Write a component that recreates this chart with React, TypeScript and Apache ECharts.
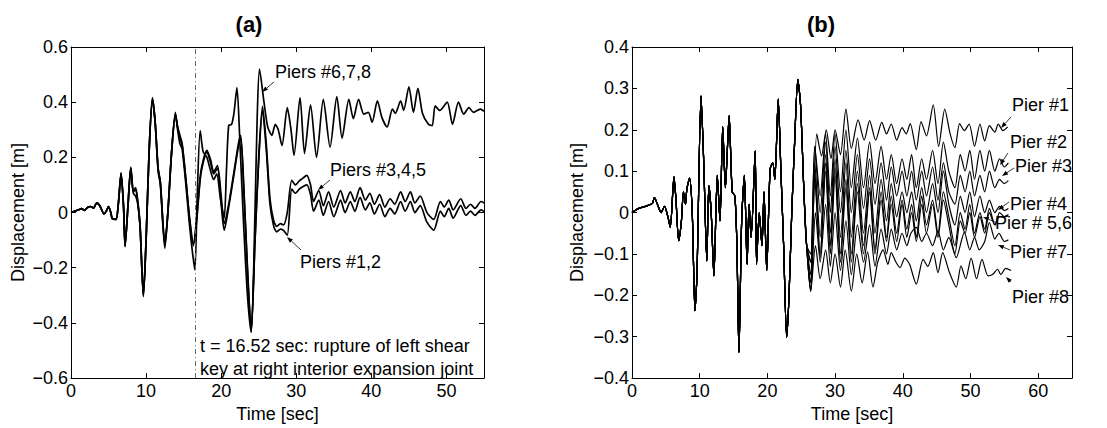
import React, { useEffect, useRef } from "react";
import * as echarts from "echarts";

// ---------- Panel (a) data: [time (s), displacement (m)] ----------
const RUPTURE_TIME = 16.52;

const piers678: number[][] = [
  [0, 0], [0.5, 0.005], [1.0, 0.01], [1.4, 0.014], [1.8, 0.008], [2.2, 0.018], [2.6, 0.022], [3.0, 0.016],
  [3.4, 0.034], [3.7, 0.03], [4.0, 0.015], [4.4, -0.005], [4.7, 0.005], [5.0, 0.022], [5.3, 0.0], [5.5, -0.022],
  [6.0, -0.025], [6.3, 0.03], [6.67, 0.145], [7.0, 0.02], [7.2, -0.124], [7.6, 0.03], [7.96, 0.165], [8.3, 0.07],
  [8.6, 0.06], [8.9, 0.03], [9.2, -0.05], [9.64, -0.305], [10.0, -0.1], [10.4, 0.22], [10.84, 0.417], [11.2, 0.33],
  [11.6, 0.15], [11.9, 0.1], [12.5, -0.13], [12.9, 0.0], [13.4, 0.22], [13.9, 0.363], [14.2, 0.3], [14.5, 0.25],
  [14.8, 0.23], [15.3, 0.1], [15.8, -0.05], [16.2, -0.15], [16.5, -0.208], [16.8, 0.05], [17.2, 0.297], [17.6, 0.22],
  [18.1, 0.2], [18.6, 0.15], [19.0, 0.12], [19.4, 0.14], [19.9, 0.05], [20.4, -0.02], [20.7, 0.15], [21.0, 0.315],
  [21.4, 0.32], [21.7, 0.36], [22.1, 0.453], [22.5, 0.25], [23.0, -0.05], [23.5, -0.3], [24.0, -0.434], [24.5, 0.0],
  [24.8, 0.35], [25.1, 0.52], [25.7, 0.4], [26.2, 0.31], [26.75, 0.28], [27.2, 0.32], [27.6, 0.3], [28.1, 0.243],
  [28.8, 0.38], [29.3, 0.3], [29.7, 0.207], [30.5, 0.417], [31.1, 0.214], [31.9, 0.39], [32.7, 0.2], [33.6, 0.41],
  [34.5, 0.237], [35.4, 0.42], [36.1, 0.27], [37.0, 0.41], [37.6, 0.34], [38.3, 0.41], [39.0, 0.357], [39.6, 0.363],
  [40.1, 0.327], [40.8, 0.405], [41.4, 0.345], [42.1, 0.31], [42.8, 0.375], [43.2, 0.36], [43.9, 0.405], [44.3, 0.37],
  [45.0, 0.456], [45.6, 0.363], [46.2, 0.45], [46.8, 0.36], [47.6, 0.32], [48.1, 0.315], [48.5, 0.387], [49.1, 0.37],
  [50.1, 0.4], [50.8, 0.32], [51.6, 0.4], [52.3, 0.357], [53.0, 0.38], [53.6, 0.363], [54.5, 0.375], [55, 0.367],
];

const piers345: number[][] = [
  [0, 0], [0.5, 0.005], [1.0, 0.01], [1.4, 0.014], [1.8, 0.008], [2.2, 0.018], [2.6, 0.022], [3.0, 0.016],
  [3.4, 0.034], [3.7, 0.03], [4.0, 0.015], [4.4, -0.005], [4.7, 0.005], [5.0, 0.022], [5.3, 0.0], [5.5, -0.022],
  [6.0, -0.025], [6.3, 0.03], [6.67, 0.14], [7.0, 0.02], [7.2, -0.12], [7.6, 0.03], [7.96, 0.16], [8.3, 0.075],
  [8.6, 0.09], [8.9, 0.04], [9.2, -0.05], [9.64, -0.3], [10.0, -0.1], [10.4, 0.22], [10.84, 0.41], [11.2, 0.33],
  [11.6, 0.16], [11.9, 0.11], [12.5, -0.11], [12.9, 0.0], [13.4, 0.22], [13.9, 0.355], [14.2, 0.31], [14.5, 0.28],
  [14.8, 0.25], [15.3, 0.12], [15.8, -0.02], [16.3, -0.112], [16.8, 0.0], [17.3, 0.15], [18.1, 0.225], [18.6, 0.19],
  [19.0, 0.147], [19.5, 0.17], [20.0, 0.06], [20.4, -0.04], [21.0, 0.03], [21.6, 0.13], [22.3, 0.25], [22.6, 0.28],
  [23.0, 0.1], [23.5, -0.2], [24.0, -0.43], [24.5, -0.1], [25.0, 0.2], [25.5, 0.385], [26.0, 0.25], [26.5, 0.05],
  [27.0, -0.03], [27.4, -0.05], [27.9, -0.04], [28.3, -0.045], [28.8, 0.0], [29.4, 0.117], [29.9, 0.1], [30.4, 0.115],
  [30.8, 0.123], [31.4, 0.135], [31.9, 0.1], [32.3, 0.04], [33.0, 0.08], [33.6, 0.025], [34.3, 0.075], [35.0, 0.02],
  [35.9, 0.08], [36.5, 0.035], [37.2, 0.075], [37.8, 0.04], [38.5, 0.09], [39.2, 0.045], [39.8, 0.07], [40.4, 0.03],
  [41.1, 0.065], [41.8, 0.02], [42.5, 0.05], [43.1, 0.03], [43.9, 0.075], [44.5, 0.04], [45.2, 0.075], [45.8, 0.035],
  [46.5, 0.06], [47.4, 0.0], [48.3, -0.025], [49.2, 0.04], [49.7, 0.02], [50.3, 0.045], [50.9, 0.01], [51.9, 0.05],
  [52.6, 0.015], [53.2, 0.03], [53.8, 0.015], [54.6, 0.04], [55, 0.035],
];

const piers12: number[][] = [
  [0, 0], [0.5, 0.005], [1.0, 0.01], [1.4, 0.014], [1.8, 0.008], [2.2, 0.018], [2.6, 0.022], [3.0, 0.016],
  [3.4, 0.034], [3.7, 0.03], [4.0, 0.015], [4.4, -0.005], [4.7, 0.005], [5.0, 0.022], [5.3, 0.0], [5.5, -0.022],
  [6.0, -0.025], [6.3, 0.03], [6.67, 0.14], [7.0, 0.02], [7.2, -0.12], [7.6, 0.03], [7.96, 0.16], [8.3, 0.075],
  [8.6, 0.085], [8.9, 0.035], [9.2, -0.05], [9.64, -0.3], [10.0, -0.1], [10.4, 0.22], [10.84, 0.41], [11.2, 0.33],
  [11.6, 0.16], [11.9, 0.11], [12.5, -0.12], [12.9, 0.0], [13.4, 0.22], [13.9, 0.355], [14.2, 0.31], [14.5, 0.27],
  [14.8, 0.245], [15.3, 0.12], [15.8, -0.03], [16.3, -0.12], [16.8, -0.01], [17.3, 0.14], [18.1, 0.22], [18.6, 0.18],
  [19.0, 0.14], [19.5, 0.16], [20.0, 0.03], [20.4, -0.064], [21.0, 0.02], [21.6, 0.12], [22.3, 0.24], [22.6, 0.27],
  [23.0, 0.09], [23.5, -0.21], [24.0, -0.43], [24.5, -0.11], [25.0, 0.19], [25.5, 0.37], [26.0, 0.23], [26.5, 0.03],
  [27.0, -0.05], [27.4, -0.07], [27.9, -0.06], [28.3, -0.065], [28.8, -0.082], [29.4, 0.085], [29.9, 0.07], [30.4, 0.085],
  [30.8, 0.093], [31.4, 0.1], [31.9, 0.065], [32.3, 0.005], [33.0, 0.045], [33.6, -0.01], [34.3, 0.04], [35.0, -0.015],
  [35.9, 0.045], [36.5, 0.0], [37.2, 0.04], [37.8, 0.005], [38.5, 0.055], [39.2, 0.01], [39.8, 0.035], [40.4, -0.005],
  [41.1, 0.03], [41.8, -0.015], [42.5, 0.015], [43.1, -0.005], [43.9, 0.04], [44.5, 0.005], [45.2, 0.04], [45.8, 0.0],
  [46.5, 0.025], [47.4, -0.035], [48.3, -0.064], [49.2, 0.005], [49.7, -0.015], [50.3, 0.015], [50.9, -0.02], [51.9, 0.025],
  [52.6, -0.01], [53.2, 0.005], [53.8, -0.01], [54.6, 0.01], [55, 0.004],
];

// ---------- Panel (b) data ----------
// common response of all piers before they separate
const commonB: number[][] = [
  [0, 0], [1.0, 0.01], [2.0, 0.015], [3.0, 0.022], [3.3, 0.036], [3.8, 0.018], [4.3, 0.0], [4.8, 0.015],
  [5.3, -0.01], [5.65, -0.036], [6.2, 0.086], [6.5, 0.03], [6.9, -0.068], [7.3, -0.02], [7.6, 0.05], [7.9, 0.02],
  [8.1, 0.056], [8.5, 0.083], [8.9, 0.0], [9.3, -0.237], [9.6, -0.15], [10.2, 0.282], [10.6, 0.12], [11.05, -0.117],
  [11.35, 0.065], [11.7, 0.0], [12.1, -0.153], [12.6, 0.09], [13.0, -0.02], [13.4, 0.208], [13.8, 0.06], [14.0, 0.12],
  [14.35, 0.234], [14.8, 0.05], [15.2, 0.04], [15.5, -0.08], [15.8, -0.338], [16.2, -0.02], [16.6, 0.09], [17.0, -0.125],
  [17.3, 0.02], [17.6, -0.06], [18.2, 0.149], [18.4, -0.125], [18.8, 0.0], [19.2, -0.08], [19.5, 0.05], [19.9, -0.14],
  [20.4, 0.105], [20.8, 0.12], [21.1, 0.08], [21.6, 0.274], [22.0, 0.1], [22.4, -0.08], [22.85, -0.302], [23.2, -0.2],
  [23.6, 0.0], [24.0, 0.16], [24.5, 0.322], [24.9, 0.26], [25.4, 0.05], [25.8, -0.08],
];

const pier1Tail: number[][] = [
  [26.4, -0.12], [27.3, 0.19], [28.0, 0.137], [28.7, 0.2], [29.4, 0.13], [30.0, 0.2], [30.8, 0.14], [31.6, 0.25],
  [32.4, 0.155], [33.4, 0.224], [34.3, 0.175], [35.1, 0.222], [36.0, 0.175], [36.9, 0.218], [37.6, 0.19], [38.3, 0.214],
  [39.1, 0.175], [39.9, 0.205], [40.5, 0.19], [41.1, 0.215], [42.0, 0.152], [42.7, 0.22], [43.5, 0.185], [44.5, 0.26],
  [45.3, 0.16], [46.2, 0.25], [47.0, 0.19], [47.7, 0.157], [48.4, 0.215], [49.1, 0.198], [49.8, 0.214], [50.6, 0.16],
  [51.4, 0.214], [52.1, 0.173], [52.8, 0.21], [53.6, 0.194], [54.1, 0.214], [54.8, 0.198], [55.5, 0.207],
];
const pier2Tail: number[][] = [
  [26.4, -0.1], [27.0, 0.16], [27.8, 0.04], [28.6, 0.19], [29.3, 0.04], [30.0, 0.19], [30.8, 0.05], [31.6, 0.2],
  [32.4, 0.06], [33.3, 0.18], [34.2, 0.06], [35.1, 0.17], [35.9, 0.07], [36.8, 0.16], [37.6, 0.08], [38.3, 0.14],
  [39.1, 0.07], [39.9, 0.13], [40.6, 0.08], [41.3, 0.14], [42.0, 0.06], [42.8, 0.13], [43.5, 0.08], [44.4, 0.15],
  [45.2, 0.07], [46.0, 0.17], [46.8, 0.1], [47.7, 0.06], [48.5, 0.14], [49.2, 0.1], [49.9, 0.15], [50.6, 0.08],
  [51.4, 0.15], [52.1, 0.1], [52.8, 0.15], [53.6, 0.1], [54.3, 0.13], [55.0, 0.11], [55.6, 0.12],
];
const pier3Tail: number[][] = [
  [26.4, -0.12], [27.0, 0.16], [27.8, 0.0], [28.6, 0.17], [29.3, 0.0], [30.0, 0.16], [30.8, 0.0], [31.6, 0.15],
  [32.4, 0.0], [33.3, 0.14], [34.2, 0.01], [35.1, 0.13], [35.9, 0.02], [36.8, 0.12], [37.6, 0.03], [38.3, 0.11],
  [39.1, 0.04], [39.9, 0.1], [40.6, 0.04], [41.3, 0.1], [42.0, 0.03], [42.8, 0.1], [43.5, 0.04], [44.4, 0.11],
  [45.2, 0.03], [46.0, 0.12], [46.8, 0.05], [47.7, 0.02], [48.5, 0.09], [49.2, 0.05], [49.9, 0.1], [50.6, 0.04],
  [51.4, 0.09], [52.1, 0.05], [52.8, 0.1], [53.6, 0.06], [54.3, 0.08], [55.0, 0.07], [55.6, 0.077],
];
const pier4Tail: number[][] = [
  [26.4, -0.15], [27.0, 0.12], [27.8, -0.06], [28.6, 0.14], [29.3, -0.05], [30.0, 0.13], [30.8, -0.06], [31.6, 0.12],
  [32.4, -0.06], [33.3, 0.1], [34.2, -0.05], [35.1, 0.09], [35.9, -0.05], [36.8, 0.08], [37.6, -0.02], [38.3, 0.07],
  [39.1, -0.01], [39.9, 0.05], [40.6, 0.0], [41.3, 0.05], [42.0, -0.02], [42.8, 0.06], [43.5, 0.0], [44.4, 0.07],
  [45.2, 0.0], [46.0, 0.1], [46.8, 0.02], [47.7, -0.03], [48.5, 0.04], [49.2, 0.0], [49.9, 0.05], [50.6, -0.01],
  [51.4, 0.04], [52.1, 0.0], [52.8, 0.03], [53.6, 0.0], [54.3, 0.015], [55.0, 0.005], [55.6, 0.01],
];
const pier5Tail: number[][] = [
  [26.4, -0.19], [27.0, 0.1], [27.8, -0.1], [28.6, 0.12], [29.3, -0.08], [30.0, 0.11], [30.8, -0.1], [31.6, 0.08],
  [32.4, -0.1], [33.3, 0.07], [34.2, -0.08], [35.1, 0.06], [35.9, -0.09], [36.8, 0.05], [37.6, -0.06], [38.3, 0.04],
  [39.1, -0.05], [39.9, 0.03], [40.6, -0.04], [41.3, 0.02], [42.0, -0.06], [42.8, 0.04], [43.5, -0.03], [44.4, 0.03],
  [45.2, -0.05], [46.0, 0.05], [46.8, -0.01], [47.7, -0.08], [48.5, 0.0], [49.2, -0.04], [49.9, 0.02], [50.6, -0.05],
  [51.4, 0.0], [52.1, -0.04], [52.8, 0.01], [53.6, -0.03], [54.3, 0.0], [55.0, -0.01], [55.6, -0.005],
];
const pier6Tail: number[][] = [
  [26.4, -0.17], [27.0, 0.08], [27.8, -0.11], [28.6, 0.1], [29.3, -0.1], [30.0, 0.09], [30.8, -0.12], [31.6, 0.06],
  [32.4, -0.12], [33.3, 0.05], [34.2, -0.1], [35.1, 0.05], [35.9, -0.1], [36.8, 0.03], [37.6, -0.07], [38.3, 0.02],
  [39.1, -0.07], [39.9, 0.02], [40.6, -0.06], [41.3, 0.0], [42.0, -0.07], [42.8, 0.02], [43.5, -0.05], [44.4, 0.02],
  [45.2, -0.06], [46.0, 0.03], [46.8, -0.03], [47.7, -0.1], [48.5, -0.02], [49.2, -0.05], [49.9, 0.0], [50.6, -0.06],
  [51.4, -0.01], [52.1, -0.05], [52.8, 0.0], [53.6, -0.03], [54.3, -0.01], [55.0, -0.01], [55.6, -0.008],
];
const pier7Tail: number[][] = [
  [26.4, -0.19], [27.1, 0.0], [27.8, -0.12], [28.6, 0.02], [29.3, -0.13], [30.0, 0.0], [30.8, -0.14], [31.6, -0.02],
  [32.4, -0.15], [33.3, -0.03], [34.2, -0.12], [35.1, -0.03], [35.9, -0.13], [36.8, -0.04], [37.6, -0.1], [38.3, -0.04],
  [39.1, -0.09], [39.9, -0.05], [40.6, -0.08], [41.2, -0.05], [42.0, -0.036], [42.8, -0.07], [43.5, -0.05], [44.4, -0.08],
  [45.2, -0.045], [46.0, -0.09], [46.8, -0.06], [47.9, -0.109], [49.1, -0.048], [49.9, -0.09], [50.6, -0.06], [51.3, -0.09],
  [52.1, -0.07], [52.8, -0.024], [53.6, -0.064], [54.2, -0.05], [55.0, -0.07], [55.6, -0.066],
];
const pier8Tail: number[][] = [
  [26.4, -0.19], [27.1, -0.08], [27.8, -0.16], [28.6, -0.09], [29.3, -0.17], [30.0, -0.1], [30.8, -0.18], [31.5, -0.09],
  [32.4, -0.19], [33.2, -0.1], [34.0, -0.17], [34.8, -0.095], [35.6, -0.18], [36.3, -0.12], [37.1, -0.09], [37.8, -0.125],
  [38.3, -0.097], [39.0, -0.12], [39.6, -0.133], [40.3, -0.11], [41.0, -0.125], [42.0, -0.173], [43.0, -0.113], [43.7, -0.13],
  [44.5, -0.097], [45.2, -0.145], [45.9, -0.097], [46.9, -0.145], [47.9, -0.18], [48.6, -0.129], [49.3, -0.16], [50.1, -0.11],
  [50.9, -0.16], [51.7, -0.113], [52.6, -0.153], [53.3, -0.149], [54.0, -0.137], [54.5, -0.15], [55.2, -0.135], [56.0, -0.14],
];

const pierTails: number[][][] = [pier1Tail, pier2Tail, pier3Tail, pier4Tail, pier5Tail, pier6Tail, pier7Tail, pier8Tail];

const FONT = '"Liberation Sans", Arial, Helvetica, sans-serif';

function yFmt(v: number): string {
  if (Math.abs(v) < 1e-9) return "0";
  return (v < 0 ? "\u2212" : "") + Math.abs(v).toFixed(1);
}

function arrow(x1: number, y1: number, x2: number, y2: number): any[] {
  const ang = Math.atan2(y2 - y1, x2 - x1);
  const L = 6;
  const W = 2.2;
  const bx = x2 - L * Math.cos(ang);
  const by = y2 - L * Math.sin(ang);
  const px = -Math.sin(ang) * W;
  const py = Math.cos(ang) * W;
  return [
    { type: "line", shape: { x1, y1, x2: bx, y2: by }, style: { stroke: "#000", lineWidth: 0.8 }, z: 100 },
    { type: "polygon", shape: { points: [[x2, y2], [bx + px, by + py], [bx - px, by - py]] }, style: { fill: "#000" }, z: 100 },
  ];
}

function label(text: string, x: number, y: number, size = 18): any {
  return {
    type: "text",
    x,
    y,
    z: 100,
    style: { text, fill: "#000", fontSize: size, fontFamily: FONT, verticalAlign: "middle", align: "left" },
  };
}

function xAxisDef(grid: number, max: number, top: boolean): any {
  return {
    gridIndex: grid,
    type: "value",
    position: top ? "top" : "bottom",
    min: 0,
    max,
    interval: 10,
    name: top ? "" : "Time [sec]",
    nameLocation: "middle",
    nameGap: 26,
    nameTextStyle: { fontSize: 18, color: "#000", fontFamily: FONT },
    axisLine: { onZero: false, lineStyle: { color: "#000", width: 1 } },
    axisTick: { inside: true, length: 5, lineStyle: { color: "#000", width: 1 } },
    axisLabel: { show: !top, fontSize: 18, color: "#000", fontFamily: FONT, margin: 4, showMaxLabel: false },
    splitLine: { show: false },
  };
}

function yAxisDef(grid: number, min: number, max: number, interval: number, right: boolean, gap: number): any {
  return {
    gridIndex: grid,
    type: "value",
    position: right ? "right" : "left",
    min,
    max,
    interval,
    name: right ? "" : "Displacement [m]",
    nameLocation: "middle",
    nameGap: gap,
    nameTextStyle: { fontSize: 18, color: "#000", fontFamily: FONT },
    axisLine: { onZero: false, lineStyle: { color: "#000", width: 1 } },
    axisTick: { inside: true, length: 5, lineStyle: { color: "#000", width: 1 } },
    axisLabel: { show: !right, fontSize: 18, color: "#000", fontFamily: FONT, margin: 3, formatter: yFmt },
    splitLine: { show: false },
  };
}

export default function App() {
  const ref = useRef<HTMLDivElement>(null);

  useEffect(() => {
    if (!ref.current) return;
    const chart = echarts.init(ref.current, undefined, { renderer: "svg" });

    const leftSeries = [piers678, piers345, piers12].map((d, i) => ({
      type: "line",
      xAxisIndex: 0,
      yAxisIndex: 0,
      data: d,
      showSymbol: false,
      smooth: 0.25,
      lineStyle: { color: "#000", width: 1.7 },
      silent: true,
      markLine:
        i === 0
          ? {
              silent: true,
              symbol: ["none", "none"],
              label: { show: false },
              lineStyle: { color: "#666", width: 1, type: [5, 3, 1, 3] },
              data: [{ xAxis: RUPTURE_TIME }],
            }
          : undefined,
    }));

    const rightSeries = pierTails.map((tail) => ({
      type: "line",
      xAxisIndex: 2,
      yAxisIndex: 2,
      data: commonB.concat(tail),
      showSymbol: false,
      smooth: 0.25,
      lineStyle: { color: "#000", width: 1.2 },
      silent: true,
    }));

    const graphics: any[] = [
      { type: "text", x: 249, y: 24, style: { text: "(a)", fontSize: 22, fontWeight: "bold", fontFamily: FONT, fill: "#000", align: "center", verticalAlign: "middle" } },
      { type: "text", x: 821, y: 24, style: { text: "(b)", fontSize: 22, fontWeight: "bold", fontFamily: FONT, fill: "#000", align: "center", verticalAlign: "middle" } },
      label("Piers #6,7,8", 275, 72),
      ...arrow(274, 82, 262, 92),
      label("Piers #3,4,5", 330, 170),
      ...arrow(330, 180, 318, 190),
      label("Piers #1,2", 300, 262),
      ...arrow(301, 250, 287, 237),
      label("t = 16.52 sec: rupture of left shear", 200, 346),
      label("key at right interior expansion joint", 200, 369),
      label("Pier #1", 1012, 105),
      ...arrow(1011, 117, 1001, 128),
      label("Pier #2", 1010, 142),
      ...arrow(1008, 153, 1000, 165),
      label("Pier #3", 1015, 166),
      ...arrow(1014, 168, 1002, 176),
      label("Pier #4", 1010, 204),
      ...arrow(1009, 202, 998, 210),
      label("Pier # 5,6", 995, 223),
      ...arrow(995, 222, 983, 217),
      label("Pier #7", 1010, 252),
      ...arrow(1010, 250, 998, 245),
      label("Pier #8", 1012, 297),
      ...arrow(1011, 282, 1006, 277),
    ];

    chart.setOption({
      animation: false,
      backgroundColor: "#fff",
      textStyle: { fontFamily: FONT },
      grid: [
        { left: 71, top: 47, width: 413, height: 334 },
        { left: 632, top: 47, width: 440, height: 333 },
      ],
      xAxis: [xAxisDef(0, 55, false), xAxisDef(0, 55, true), xAxisDef(1, 65, false), xAxisDef(1, 65, true)],
      yAxis: [
        yAxisDef(0, -0.6, 0.6, 0.2, false, 44),
        yAxisDef(0, -0.6, 0.6, 0.2, true, 0),
        yAxisDef(1, -0.4, 0.4, 0.1, false, 46),
        yAxisDef(1, -0.4, 0.4, 0.1, true, 0),
      ],
      series: [...leftSeries, ...rightSeries],
      graphic: graphics,
    });

    return () => chart.dispose();
  }, []);

  return <div ref={ref} style={{ position: "fixed", left: 0, top: 0, width: 1107, height: 428, background: "#fff" }} />;
}
